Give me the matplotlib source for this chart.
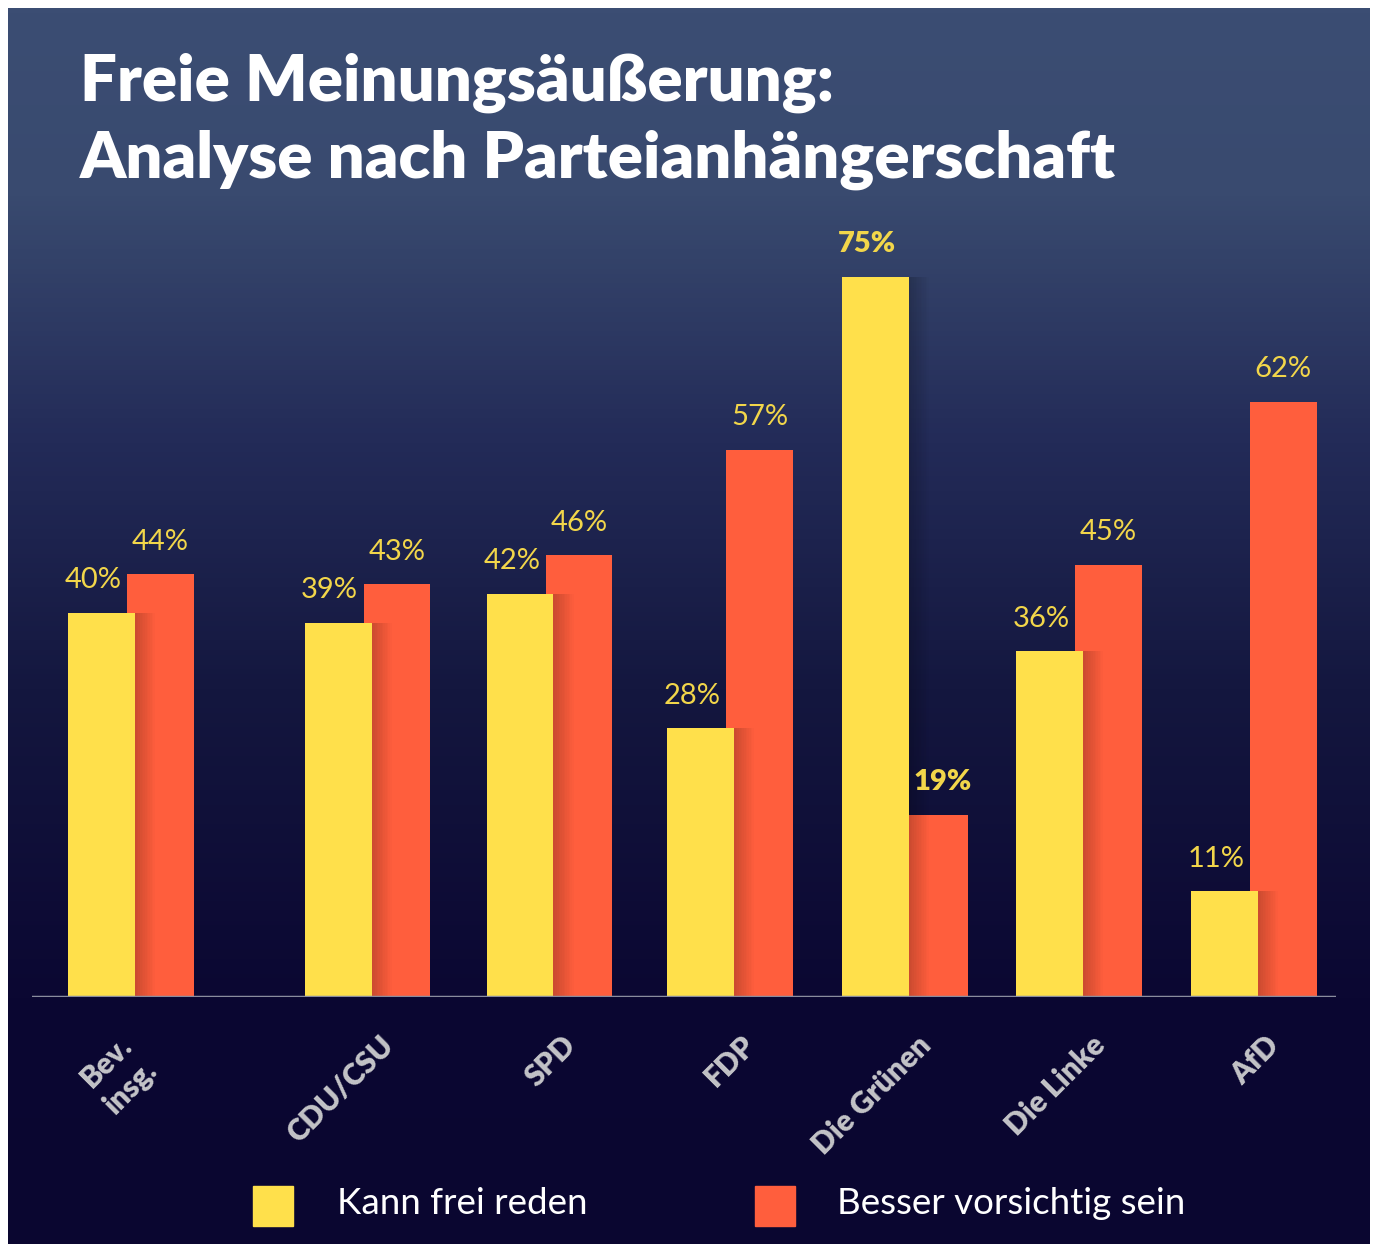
import numpy as np
import matplotlib.pyplot as plt
from matplotlib.patches import Rectangle
from matplotlib.colors import LinearSegmentedColormap

# daten
parteien = ['Bev.\ninsg.', 'CDU/CSU', 'SPD', 'FDP', 'Die Grünen', 'Die Linke', 'AfD']
kann_frei = [40, 39, 42, 28, 75, 36, 11]
vorsichtig = [44, 43, 46, 57, 19, 45, 62]
legende = ['Kann frei reden', 'Besser vorsichtig sein']
titel = 'Freie Meinungsäußerung:\nAnalyse nach Parteianhängerschaft'

# gruppenpositionen (mitte gelber balken, erste gruppe etwas abgesetzt)
pos = np.array([0, 1.344, 2.378, 3.403, 4.398, 5.386, 6.38])
bw = 0.38
versatz = 0.335  # roter balken leicht unter dem gelben
lab_dx = [-0.14, 0, 0, 0, 0, 0, 0]  # kleine korrektur der achsenbeschriftung

GELB = '#ffe04b'
ROT = '#ff5e3d'
LABEL = '#f2d64a'

W, H = 1375, 1244
fig = plt.figure(figsize=(W / 100, H / 100), dpi=100, facecolor='white')


def fx(px):
    return px / W


def fy(py):
    return 1 - py / H


# hintergrund mit verlauf
bg = fig.add_axes([fx(8), 0, fx(1370) - fx(8), fy(8)])
cmap = LinearSegmentedColormap.from_list('bg', [
    (0.0, '#3b4d73'), (0.15, '#394a6f'), (0.35, '#232b58'),
    (0.55, '#14173f'), (0.8, '#0b0732'), (1.0, '#0a0630')])
bg.imshow(np.linspace(0, 1, 256).reshape(-1, 1), aspect='auto', cmap=cmap,
          extent=[0, 1, 1, 0])
bg.set_axis_off()

# diagramm
ax = fig.add_axes([fx(32), fy(997), fx(1336) - fx(32), fy(200) - fy(997)])
ax.set_facecolor('none')
ax.set_xlim(-0.395, 7.014)
ax.set_ylim(0, 83)

ax.bar(pos + versatz, vorsichtig, bw, color=ROT, zorder=2)
# schatten der gelben balken
for i in range(12):
    ax.bar(pos + bw / 2 + i * bw / 40, kann_frei, bw / 40, align='edge',
           color='black', alpha=0.2 * (1 - i / 12), lw=0, zorder=2.5)
ax.bar(pos, kann_frei, bw, color=GELB, zorder=3)

ax.axhline(0, color='#8a8c9e', lw=2.5, zorder=4)

for i in range(len(parteien)):
    fett1 = kann_frei[i] > vorsichtig[i] + 40
    fett2 = vorsichtig[i] < 20
    ax.annotate(f'{kann_frei[i]}%', (pos[i], kann_frei[i]),
                xytext=(-6, 14), textcoords='offset points', ha='center',
                va='bottom', color=LABEL, fontsize=21, fontfamily='Lato',
                fontweight='heavy' if fett1 else 'normal')
    ax.annotate(f'{vorsichtig[i]}%', (pos[i] + versatz, vorsichtig[i]),
                xytext=(6 if fett2 else 0, 14), textcoords='offset points',
                ha='center', va='bottom', color=LABEL, fontsize=21,
                fontfamily='Lato', fontweight='heavy' if fett2 else 'normal')
    ax.text(pos[i] + 0.233 + lab_dx[i], -3.5, parteien[i], rotation=45,
            rotation_mode='anchor', ha='right', va='top', color='#c4c4c8',
            fontsize=21.5, fontfamily='Lato', fontweight='heavy',
            linespacing=1.3, multialignment='right')

ax.set_axis_off()

fig.text(fx(80), fy(53), titel, ha='left', va='top', color='white',
         fontsize=47, fontfamily='Lato', fontweight='heavy', linespacing=1.33)

# legende
for (x0, tx), col, lab in zip([(253, 337), (755, 837)], [GELB, ROT], legende):
    fig.patches.append(Rectangle((fx(x0), fy(1226)), fx(40), 40 / H,
                                 color=col, transform=fig.transFigure))
    fig.text(fx(tx), fy(1204), lab, ha='left', va='center', color='white',
             fontsize=26.5, fontfamily='Lato')

fig.savefig('out.png', dpi=100, facecolor='white')
